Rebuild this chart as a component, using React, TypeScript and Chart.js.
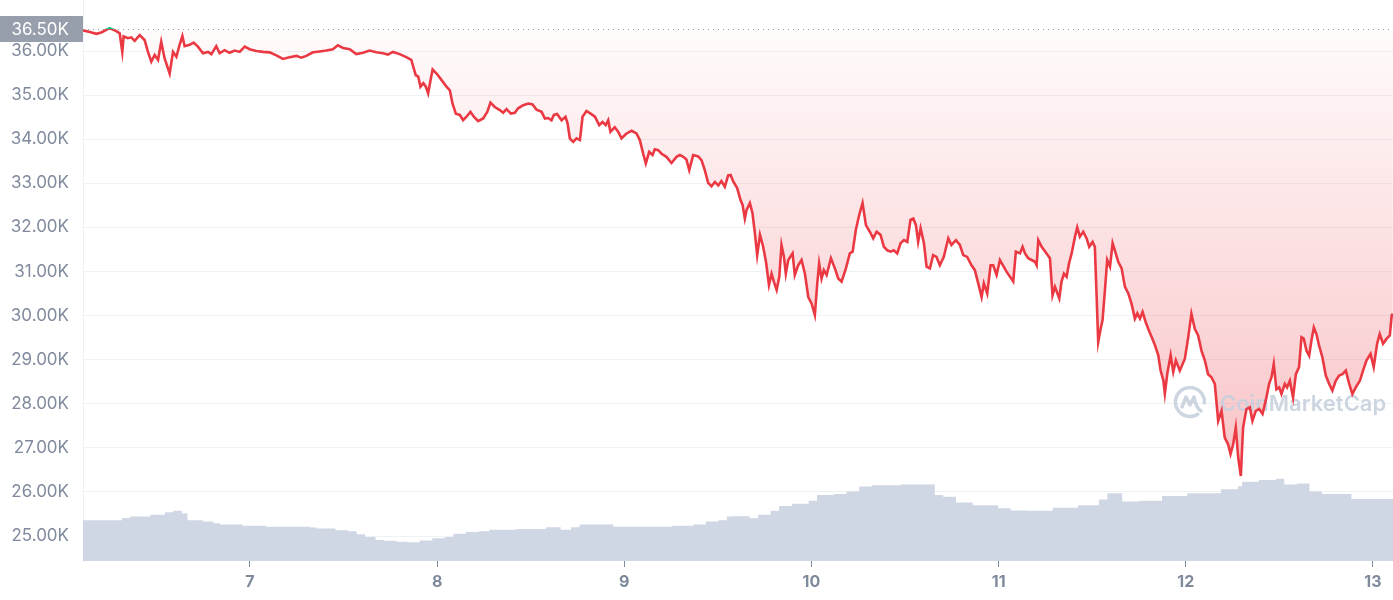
import React, { useEffect, useRef } from "react";
import { Chart, registerables } from "chart.js";

Chart.register(...registerables);

// ---------- data ----------
const xTickDays = [7, 8, 9, 10, 11, 12, 13];
const yTickValues = [25, 26, 27, 28, 29, 30, 31, 32, 33, 34, 35, 36];
const openPrice = 36.5; // K, reference (opening) price
const dayStart = 6.108;
const dayEnd = 13.107;
const priceMinK = 24.433;
const priceMaxK = 37.157;

const priceDays = [
  6.108, 6.144, 6.179, 6.206, 6.25, 6.286, 6.304, 6.318, 6.325, 6.348, 6.366, 6.384, 6.411, 6.437, 6.455, 6.473,
  6.491, 6.509, 6.526, 6.544, 6.571, 6.589, 6.607, 6.624, 6.639, 6.651, 6.678, 6.699, 6.722, 6.749, 6.776, 6.794,
  6.82, 6.838, 6.865, 6.891, 6.918, 6.945, 6.972, 6.998, 7.034, 7.07, 7.105, 7.141, 7.176, 7.212, 7.248, 7.274,
  7.301, 7.337, 7.372, 7.408, 7.443, 7.47, 7.497, 7.533, 7.568, 7.604, 7.639, 7.675, 7.711, 7.737, 7.764, 7.8,
  7.835, 7.862,
  7.886, 7.899, 7.911, 7.926, 7.94, 7.952, 7.965, 7.976, 7.997, 8.024, 8.05, 8.068, 8.082, 8.1, 8.121, 8.139,
  8.157, 8.178, 8.196, 8.219, 8.246, 8.268, 8.285, 8.308, 8.335, 8.353, 8.371, 8.394, 8.415, 8.433, 8.46, 8.487,
  8.51, 8.531, 8.558, 8.576, 8.593, 8.611, 8.624, 8.641, 8.665, 8.686, 8.697, 8.709, 8.727, 8.745, 8.763, 8.777,
  8.798, 8.82, 8.843, 8.866, 8.884, 8.901, 8.914, 8.926, 8.949, 8.967, 8.985, 9.012, 9.039, 9.065, 9.083, 9.101,
  9.115, 9.133, 9.151, 9.163, 9.181, 9.199, 9.225, 9.252, 9.279, 9.297, 9.315, 9.332, 9.347, 9.368, 9.395, 9.413,
  9.43, 9.448, 9.466, 9.484, 9.502, 9.519, 9.537, 9.555,
  9.568, 9.582, 9.603, 9.621, 9.632, 9.644, 9.653, 9.671, 9.685, 9.698, 9.71, 9.725, 9.742, 9.757, 9.773, 9.787,
  9.799, 9.814, 9.828, 9.84, 9.853, 9.863, 9.876, 9.899, 9.911, 9.929, 9.947, 9.965, 9.983, 10.001, 10.018, 10.031,
  10.041, 10.054, 10.066, 10.081, 10.104, 10.125, 10.143, 10.161, 10.184, 10.205, 10.22, 10.237, 10.255, 10.273,
  10.291, 10.312, 10.33, 10.348, 10.369, 10.387, 10.405, 10.423, 10.44, 10.458, 10.476, 10.494, 10.512, 10.529,
  10.544, 10.558, 10.57, 10.583, 10.601, 10.615, 10.633, 10.65, 10.668, 10.686, 10.707, 10.731, 10.748, 10.772,
  10.793, 10.811, 10.832, 10.855, 10.873, 10.891, 10.909, 10.921, 10.939, 10.957, 10.971, 10.989,
  11.007, 11.043, 11.078, 11.092, 11.114, 11.128, 11.141, 11.158, 11.176, 11.194, 11.203, 11.212, 11.23, 11.256,
  11.274, 11.288, 11.301, 11.324, 11.336, 11.349, 11.363, 11.376, 11.39, 11.408, 11.42, 11.434, 11.452, 11.47,
  11.484, 11.502, 11.514, 11.523, 11.532, 11.545, 11.555, 11.568, 11.58, 11.595, 11.609, 11.621, 11.639, 11.657,
  11.675, 11.693, 11.71, 11.728, 11.741, 11.755, 11.769, 11.785, 11.799, 11.817, 11.835, 11.853, 11.865, 11.88,
  11.888, 11.901, 11.919, 11.933, 11.947,
  11.968, 11.995, 12.013, 12.03, 12.048, 12.066, 12.084, 12.102, 12.119, 12.137, 12.155, 12.173, 12.191, 12.208,
  12.226, 12.239, 12.253, 12.267, 12.28, 12.294, 12.306, 12.324, 12.342, 12.356, 12.374, 12.392, 12.41, 12.427,
  12.445, 12.458, 12.47, 12.484, 12.499, 12.511, 12.529, 12.541, 12.556, 12.573, 12.588, 12.605, 12.618, 12.63,
  12.645, 12.659, 12.671, 12.684, 12.698, 12.712, 12.73, 12.748, 12.766, 12.783, 12.801, 12.819, 12.837, 12.855,
  12.873, 12.89, 12.908, 12.93, 12.947, 12.965, 12.987, 13.004, 13.022, 13.036, 13.054, 13.072, 13.09, 13.1, 13.106,
];

const priceValues = [
  36.47, 36.43, 36.39, 36.42, 36.52, 36.45, 36.4, 35.98, 36.33, 36.29, 36.31, 36.23, 36.36, 36.25, 35.98, 35.76,
  35.91, 35.8, 36.21, 35.83, 35.49, 35.98, 35.87, 36.14, 36.34, 36.11, 36.14, 36.19, 36.1, 35.95, 35.98, 35.93,
  36.11, 35.95, 36.02, 35.96, 36.01, 35.98, 36.1, 36.04, 36.0, 35.98, 35.97, 35.9, 35.82, 35.86, 35.89, 35.85,
  35.89, 35.97, 35.99, 36.01, 36.04, 36.13, 36.07, 36.04, 35.93, 35.96, 36.01, 35.97, 35.95, 35.92, 35.98, 35.93,
  35.86, 35.8,
  35.45, 35.42, 35.19, 35.27, 35.19, 35.04, 35.34, 35.58, 35.49, 35.34, 35.19, 35.11, 34.81, 34.58, 34.55, 34.43,
  34.51, 34.62, 34.51, 34.41, 34.47, 34.62, 34.83, 34.73, 34.66, 34.6, 34.68, 34.58, 34.6, 34.7, 34.77, 34.81,
  34.79, 34.67, 34.62, 34.47, 34.48, 34.43, 34.55, 34.57, 34.43, 34.51, 34.36, 34.02, 33.94, 34.02, 33.98, 34.51,
  34.64, 34.58, 34.51, 34.32, 34.39, 34.32, 34.43, 34.17, 34.27, 34.17, 34.02, 34.13, 34.19, 34.13, 33.98, 33.67,
  33.45, 33.71, 33.64, 33.77, 33.75, 33.67, 33.6, 33.46, 33.6, 33.64, 33.6, 33.54, 33.3, 33.64, 33.61, 33.52,
  33.3, 33.01, 32.93, 33.03, 32.95, 33.05, 32.92, 33.18,
  33.19, 33.04, 32.89, 32.62, 32.51, 32.2, 32.39, 32.55, 32.32, 31.86, 31.37, 31.83, 31.56, 31.22, 30.69, 30.95,
  30.77, 30.58, 30.88, 31.6, 31.33, 30.95, 31.26, 31.41, 30.92, 31.14, 31.26, 30.95, 30.42, 30.27, 30.01, 30.73,
  31.18, 30.84, 31.03, 30.92, 31.3, 31.07, 30.84, 30.77, 31.07, 31.41, 31.45, 31.94, 32.28, 32.55,
  32.05, 31.9, 31.75, 31.9, 31.83, 31.56, 31.48, 31.45, 31.48, 31.41, 31.64, 31.71, 31.67, 32.17,
  32.2, 32.05, 31.67, 31.98, 31.64, 31.11, 31.07, 31.37, 31.33, 31.14, 31.33, 31.75, 31.6, 31.71,
  31.6, 31.37, 31.33, 31.14, 31.03, 30.73, 30.42, 30.73, 30.5, 31.14, 31.14, 30.92,
  31.26, 30.99, 30.77, 31.45, 31.41, 31.56, 31.41, 31.3, 31.26, 31.22, 31.14, 31.71, 31.56, 31.41,
  31.3, 30.46, 30.65, 30.39, 30.77, 30.95, 30.88, 31.18, 31.41, 31.79, 32.0, 31.79, 31.9, 31.75,
  31.56, 31.67, 31.56, 30.5, 29.4, 29.7, 29.89, 30.58, 31.26, 31.11, 31.64, 31.48, 31.22, 31.07,
  30.65, 30.5, 30.27, 29.93, 30.05, 29.93, 30.08, 29.86, 29.7, 29.52, 29.33, 29.1, 28.76, 28.53,
  28.23, 28.68, 29.1, 28.72, 28.98,
  28.75, 29.02, 29.51, 30.04, 29.7, 29.55, 29.2, 28.98, 28.67, 28.6, 28.45, 27.61, 27.84, 27.23,
  27.08, 26.86, 27.08, 27.46, 26.78, 26.36, 27.46, 27.88, 27.92, 27.61, 27.84, 27.88, 27.77, 28.07,
  28.45, 28.6, 28.9, 28.33, 28.37, 28.22, 28.45, 28.37, 28.52, 28.14, 28.67, 28.83, 29.51, 29.48,
  29.2, 29.09, 29.43, 29.73, 29.58, 29.32, 29.05, 28.64, 28.45, 28.3, 28.52, 28.64, 28.67, 28.75,
  28.45, 28.22, 28.37, 28.52, 28.75, 28.98, 29.13, 28.83, 29.36, 29.58, 29.36, 29.47, 29.55, 30.0, 30.04,
];

// volume area, drawn in the price axis' units (as it appears in the picture); each entry starts a step
const volumeDays = [
  6.108, 6.317, 6.36, 6.468, 6.546, 6.591, 6.636, 6.666, 6.749, 6.805, 6.839, 6.962, 7.086, 7.322, 7.356, 7.457,
  7.525, 7.57, 7.615, 7.671, 7.716, 7.783, 7.839, 7.907, 7.974, 8.042, 8.087, 8.154, 8.222, 8.278, 8.424, 8.581,
  8.66, 8.716, 8.761, 8.941, 9.256, 9.368, 9.436, 9.503, 9.548,
  9.58, 9.67, 9.715, 9.782, 9.827, 9.895, 9.985, 10.03, 10.12, 10.187, 10.255, 10.322, 10.479, 10.659, 10.704,
  10.772, 10.862, 10.997, 11.064, 11.154, 11.289, 11.424, 11.536, 11.581, 11.66, 11.75, 11.873, 12.008, 12.188,
  12.278, 12.301, 12.391, 12.481, 12.526, 12.593, 12.661, 12.728, 12.885, 13.107,
];
const volumeLevels = [
  25.36, 25.41, 25.44, 25.48, 25.54, 25.57, 25.51, 25.36, 25.33, 25.29, 25.26, 25.23, 25.21, 25.19, 25.17, 25.13,
  25.11, 25.04, 24.98, 24.91, 24.89, 24.87, 24.86, 24.9, 24.95, 24.98, 25.05, 25.09, 25.11, 25.14, 25.16, 25.2,
  25.14, 25.2, 25.26, 25.21, 25.23, 25.26, 25.33, 25.36, 25.44,
  25.45, 25.4, 25.48, 25.57, 25.68, 25.73, 25.8, 25.93, 25.95, 26.01, 26.12, 26.15, 26.17, 25.93, 25.89,
  25.76, 25.7, 25.63, 25.58, 25.57, 25.64, 25.7, 25.83, 25.97, 25.78, 25.8, 25.91, 25.97, 26.06,
  26.13, 26.23, 26.27, 26.3, 26.17, 26.19, 26.01, 25.95, 25.84, 25.84,
];

// ---------- styles ----------
const RED = "#ea3943";
const GREEN = "#16c784";
const AXIS_TEXT = "#808a9d";
const GRID = "#eff2f5";
const VOLUME_FILL = "#cfd6e4";
const FONT = "Inter, 'Noto Sans', 'DejaVu Sans', sans-serif";

const fmtK = (v: number) => v.toFixed(2) + "K";

export default function App() {
  const canvasRef = useRef<HTMLCanvasElement | null>(null);

  useEffect(() => {
    const canvas = canvasRef.current;
    if (!canvas) return;

    const clamp01 = (v: number) => Math.max(0, Math.min(1, v));

    const lineColor = (ctx: any) => {
      const chart = ctx.chart;
      const area = chart.chartArea;
      if (!area || !chart.scales.y) return RED;
      const yb = chart.scales.y.getPixelForValue(openPrice);
      const f = clamp01((yb - area.top) / (area.bottom - area.top));
      const g = chart.ctx.createLinearGradient(0, area.top, 0, area.bottom);
      g.addColorStop(0, GREEN);
      g.addColorStop(f, GREEN);
      g.addColorStop(Math.min(1, f + 0.0001), RED);
      g.addColorStop(1, RED);
      return g;
    };

    const fillColor = (ctx: any) => {
      const chart = ctx.chart;
      const area = chart.chartArea;
      if (!area || !chart.scales.y) return "rgba(234,57,67,0.15)";
      const y = chart.scales.y;
      const h = area.bottom - area.top;
      const f = clamp01((y.getPixelForValue(openPrice) - area.top) / h);
      const f2 = clamp01((y.getPixelForValue(26.4) - area.top) / h);
      const g = chart.ctx.createLinearGradient(0, area.top, 0, area.bottom);
      g.addColorStop(0, "rgba(22,199,132,0.15)");
      g.addColorStop(f, "rgba(22,199,132,0.15)");
      g.addColorStop(Math.min(1, f + 0.0001), "rgba(234,57,67,0.02)");
      g.addColorStop(f2, "rgba(234,57,67,0.30)");
      g.addColorStop(1, "rgba(234,57,67,0.30)");
      return g;
    };

    const decorations = {
      id: "cmcDecorations",
      beforeDatasetDraw(chart: any, args: any) {
        if (args.index !== 0) return;
        const { ctx, chartArea: a } = chart;
        ctx.save();
        const cx = a.right - 203;
        const cy = a.bottom - 159;
        ctx.strokeStyle = "rgba(200,208,222,0.9)";
        ctx.lineWidth = 3.5;
        ctx.lineCap = "round";
        ctx.lineJoin = "round";
        ctx.beginPath();
        ctx.arc(cx, cy, 14.5, Math.PI * 0.32, Math.PI * 2.02);
        ctx.stroke();
        ctx.beginPath();
        ctx.moveTo(cx - 8, cy + 5);
        ctx.lineTo(cx - 4, cy - 5);
        ctx.lineTo(cx, cy + 3);
        ctx.lineTo(cx + 4, cy - 5);
        ctx.quadraticCurveTo(cx + 6, cy + 6, cx + 11, cy + 9);
        ctx.stroke();
        ctx.fillStyle = "rgba(200,208,222,0.9)";
        ctx.font = `600 22px ${FONT}`;
        ctx.textAlign = "left";
        ctx.textBaseline = "middle";
        ctx.fillText("CoinMarketCap", cx + 30, cy + 2);
        ctx.restore();
      },
      afterDatasetsDraw(chart: any) {
        const { ctx, chartArea: a, scales } = chart;
        const yb = Math.round(scales.y.getPixelForValue(openPrice)) + 0.5;
        ctx.save();
        ctx.strokeStyle = "rgba(128,138,157,0.85)";
        ctx.lineWidth = 1;
        ctx.setLineDash([1, 4]);
        ctx.beginPath();
        ctx.moveTo(a.left, yb);
        ctx.lineTo(a.right, yb);
        ctx.stroke();
        ctx.setLineDash([]);
        // highlighted label of the opening price
        ctx.fillStyle = "#979eac";
        ctx.fillRect(0, yb - 13.5, a.left, 26);
        ctx.fillStyle = "#ffffff";
        ctx.font = `17px ${FONT}`;
        ctx.textAlign = "right";
        ctx.textBaseline = "middle";
        ctx.fillText(fmtK(openPrice), a.left - 14, yb);
        ctx.restore();
      },
    };

    const chart = new Chart(canvas, {
      type: "line",
      data: {
        datasets: [
          {
            label: "Price",
            data: priceDays.map((d, i) => ({ x: d, y: priceValues[i] })),
            borderColor: lineColor,
            backgroundColor: fillColor,
            borderWidth: 2.6,
            pointRadius: 0,
            tension: 0,
            fill: { value: openPrice },
          },
          {
            label: "Volume",
            data: volumeDays.map((d, i) => ({ x: d, y: volumeLevels[i] })),
            borderWidth: 0,
            borderColor: VOLUME_FILL,
            backgroundColor: VOLUME_FILL,
            pointRadius: 0,
            stepped: true,
            fill: "start",
          },
        ],
      },
      options: {
        animation: false,
        responsive: false,
        devicePixelRatio: 1,
        layout: { padding: 0 },
        plugins: {
          legend: { display: false },
          tooltip: { enabled: false },
        },
        scales: {
          x: {
            type: "linear",
            min: dayStart,
            max: dayEnd,
            afterBuildTicks: (s: any) => {
              s.ticks = xTickDays.map((v) => ({ value: v }));
            },
            afterFit: (s: any) => {
              s.height = 39;
              s.paddingLeft = 0;
              s.paddingRight = 0;
            },
            ticks: {
              callback: (v: any) => String(v),
              color: AXIS_TEXT,
              font: { family: FONT, size: 16, weight: "bold" },
              padding: 6,
              maxRotation: 0,
              autoSkip: false,
            },
            grid: { drawOnChartArea: false, drawTicks: true, tickLength: 6, color: AXIS_TEXT },
            border: { display: false },
          },
          y: {
            type: "linear",
            min: priceMinK,
            max: priceMaxK,
            afterBuildTicks: (s: any) => {
              s.ticks = yTickValues.map((v) => ({ value: v }));
            },
            afterFit: (s: any) => {
              s.width = 83;
              s.paddingTop = 0;
              s.paddingBottom = 0;
            },
            ticks: {
              callback: (v: any) => fmtK(Number(v)),
              color: AXIS_TEXT,
              font: { family: FONT, size: 17 },
              padding: 14,
            },
            grid: { color: GRID, drawTicks: false, lineWidth: 1 },
            border: { display: true, color: GRID },
          },
        },
      },
      plugins: [decorations],
    } as any);

    return () => chart.destroy();
  }, []);

  return (
    <div style={{ position: "absolute", left: 0, top: 0, width: 1393, height: 600, background: "#ffffff" }}>
      <canvas ref={canvasRef} width={1393} height={600} style={{ width: 1393, height: 600, display: "block" }} />
    </div>
  );
}
